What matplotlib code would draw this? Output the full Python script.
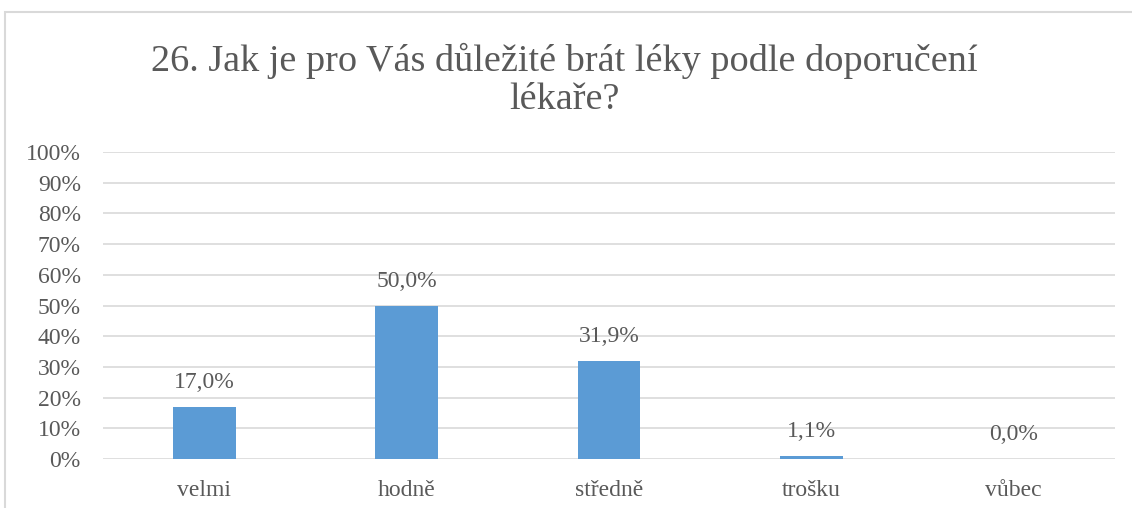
import matplotlib
matplotlib.use("Agg")
import matplotlib.pyplot as plt
from matplotlib.patches import Rectangle
from matplotlib.ticker import PercentFormatter

categories = ["velmi", "hodně", "středně", "trošku", "vůbec"]
values = [17.0, 50.0, 31.9, 1.1, 0.0]
yticks = [0, 10, 20, 30, 40, 50, 60, 70, 80, 90, 100]
title = "26. Jak je pro Vás důležité brát léky podle doporučení\nlékaře?"

TXT = "#595959"
BAR = "#5B9BD5"
GRID = "#D9D9D9"

plt.rcParams["font.family"] = ["Liberation Serif", "DejaVu Serif"]

W, H = 1132, 508
fig = plt.figure(figsize=(W / 100, H / 100), dpi=100)
fig.patch.set_facecolor("white")

# chart border
fig.add_artist(Rectangle((4.5 / W, -0.02), 1.05, 1 - 12.5 / H + 0.02,
                         transform=fig.transFigure, fill=False,
                         edgecolor=GRID, linewidth=1.5))

left, right = 103 / W, 1115 / W
bottom, top = 1 - 459 / H, 1 - 152 / H
ax = fig.add_axes([left, bottom, right - left, top - bottom])

x = list(range(len(categories)))
ax.bar(x, values, width=0.31, color=BAR, zorder=3)
ax.set_xlim(-0.5, len(categories) - 0.5)
ax.set_ylim(0, 100)
ax.set_yticks(yticks)
ax.yaxis.set_major_formatter(PercentFormatter(decimals=0))
ax.set_xticks(x)
ax.set_xticklabels(categories)
ax.grid(axis="y", color=GRID, linewidth=1.2, zorder=0)
for s in ax.spines.values():
    s.set_visible(False)
ax.tick_params(axis="both", length=0, colors=TXT, labelsize=17)
ax.tick_params(axis="y", pad=16)
ax.tick_params(axis="x", pad=15)

for xi, v in zip(x, values):
    ax.annotate(f"{v:.1f}%".replace(".", ","), (xi, v), xytext=(0, 10),
                textcoords="offset points", ha="center", va="bottom",
                color=TXT, fontsize=17, zorder=4)

fig.text(564 / W, 1 - 80 / H, title, ha="center", va="center",
         fontsize=27.5, color=TXT, linespacing=1.1)

fig.savefig("out.png", dpi=100)
